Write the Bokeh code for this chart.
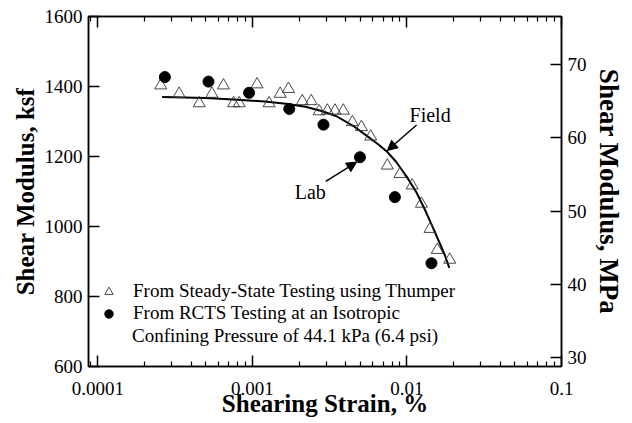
from bokeh.plotting import figure
from bokeh.models import (Range1d, LinearAxis, LogAxis, FixedTicker, Label, Arrow,
                          NormalHead, Legend, LegendItem)
from bokeh.embed import file_html
from bokeh.resources import INLINE

# ---- data ----
thumper_strain = [2.55e-4, 3.35e-4, 4.52e-4, 5.46e-4, 6.49e-4, 7.54e-4, 8.2e-4, 1.07e-3,
                  1.28e-3, 1.51e-3, 1.71e-3, 2.1e-3, 2.4e-3, 2.7e-3, 3.05e-3, 3.42e-3,
                  3.87e-3, 4.43e-3, 5.07e-3, 5.82e-3, 7.46e-3, 9.0e-3, 1.08e-2, 1.24e-2,
                  1.41e-2, 1.57e-2, 1.89e-2]
thumper_G = [1403, 1379, 1352, 1379, 1403, 1352, 1352, 1406, 1352, 1379, 1393, 1358,
             1358, 1329, 1331, 1331, 1331, 1298, 1284, 1257, 1174, 1150, 1117, 1065,
             993, 933, 905]

rcts_strain = [2.71e-4, 5.19e-4, 9.5e-4, 1.73e-3, 2.88e-3, 4.96e-3, 8.35e-3, 1.44e-2]
rcts_G = [1427, 1414, 1382, 1336, 1291, 1198, 1084, 895]

field_strain = [2.6e-4, 5e-4, 8e-4, 1.2e-3, 1.7e-3, 2.2e-3, 2.8e-3, 3.5e-3, 4.5e-3,
                5.5e-3, 6.5e-3, 7.5e-3, 8.5e-3, 1.0e-2, 1.15e-2, 1.3e-2, 1.45e-2,
                1.6e-2, 1.75e-2, 1.88e-2]
field_G = [1370, 1367, 1362, 1357, 1350, 1342, 1330, 1315, 1287, 1259, 1235, 1212,
           1185, 1141, 1098, 1050, 1003, 960, 920, 882]

x_ticks = [0.0001, 0.001, 0.01, 0.1]
x_tick_labels = ["0.0001", "0.001", "0.01", "0.1"]
y_ticks = [600, 800, 1000, 1200, 1400, 1600]
mpa_ticks = [30, 40, 50, 60, 70]
KSF_TO_MPA = 0.04788

FONT = "Liberation Serif"

p = figure(width=632, height=423, x_axis_type="log",
           x_range=Range1d(8.68e-5, 0.1), y_range=Range1d(600, 1600),
           output_backend="svg", toolbar_location=None,
           min_border_left=88, min_border_right=71, min_border_top=16,
           min_border_bottom=57)
p.grid.visible = False
p.outline_line_color = "black"
p.outline_line_width = 1.5
p.background_fill_color = "white"
p.border_fill_color = "white"

bottom = p.below[0]
left = p.left[0]

p.extra_y_ranges = {"mpa": Range1d(600 * KSF_TO_MPA, 1600 * KSF_TO_MPA)}

minor_x = [k * 10.0 ** e for e in range(-5, -1) for k in range(2, 10)]

bottom.ticker = FixedTicker(ticks=x_ticks, minor_ticks=minor_x)
bottom.major_label_overrides = dict(zip(x_ticks, x_tick_labels))
bottom.axis_label = "Shearing Strain, %"
left.ticker = FixedTicker(ticks=y_ticks, minor_ticks=[])
left.axis_label = "Shear Modulus, ksf"

top = LogAxis(ticker=FixedTicker(ticks=x_ticks, minor_ticks=minor_x),
              major_label_text_font_size="1px", major_label_text_color=None,
              major_label_standoff=0)
p.add_layout(top, "above")
right = LinearAxis(y_range_name="mpa", ticker=FixedTicker(ticks=mpa_ticks, minor_ticks=[]),
                   axis_label="Shear Modulus, MPa")
p.add_layout(right, "right")

for ax in [bottom, left, top, right]:
    ax.major_tick_in = 11
    ax.major_tick_out = 0
    ax.minor_tick_in = 5
    ax.minor_tick_out = 0
    ax.axis_line_width = 1.5
    ax.axis_line_color = "black"
    ax.major_tick_line_width = 1.5
    ax.major_tick_line_color = "black"
    ax.minor_tick_line_width = 1.2
    ax.minor_tick_line_color = "black"
    ax.major_label_text_font = FONT
    ax.axis_label_text_font = FONT
    ax.axis_label_text_font_style = "bold"
    ax.axis_label_text_font_size = "25px"
    ax.axis_label_text_color = "black"
right.axis_label_text_font_size = "27px"

for ax in [bottom, left, right]:
    ax.major_label_text_font_size = "19px"
    ax.major_label_text_color = "black"
bottom.major_label_standoff = 15
bottom.axis_label_standoff = -8
left.major_label_standoff = 6
left.axis_label_standoff = 3
right.major_label_standoff = 6
right.axis_label_standoff = 4

line = p.line(field_strain, field_G, line_width=2, color="black")
tri = p.scatter(thumper_strain, thumper_G, marker="triangle", size=12,
                fill_color=None, line_color="#333333", line_width=0.9)
circ = p.scatter(rcts_strain, rcts_G, marker="circle", size=11,
                 fill_color="black", line_color="black")

legend = Legend(items=[LegendItem(label="From Steady-State Testing using Thumper", renderers=[tri]),
                       LegendItem(label="From RCTS Testing at an Isotropic", renderers=[circ])],
                location=(10, 42), label_text_font=FONT, label_text_font_size="19px",
                label_text_color="black",
                border_line_color=None, background_fill_alpha=0, padding=0, margin=0,
                spacing=0, glyph_width=21, glyph_height=21, label_height=21,
                label_standoff=14)
p.add_layout(legend)

p.add_layout(Label(x=1.659e-4, y=689, text="Confining Pressure of 44.1 kPa (6.4 psi)",
                   text_font=FONT, text_font_size="19px", text_baseline="middle",
                   text_align="left", text_color="black"))

p.add_layout(Label(x=1.039e-2, y=1320, text="Field", text_font=FONT, text_font_size="20px",
                   text_baseline="middle", text_align="left", text_color="black"))
p.add_layout(Label(x=1.877e-3, y=1100, text="Lab", text_font=FONT, text_font_size="20px",
                   text_baseline="middle", text_align="left", text_color="black"))

p.add_layout(Arrow(x_start=1.154e-2, y_start=1290, x_end=7.46e-3, y_end=1217,
                   line_width=1.5, line_color="black",
                   end=NormalHead(size=10, fill_color="black", line_color="black")))
p.add_layout(Arrow(x_start=2.978e-3, y_start=1129, x_end=4.724e-3, y_end=1184,
                   line_width=1.5, line_color="black",
                   end=NormalHead(size=10, fill_color="black", line_color="black")))

open("out.html", "w").write(file_html(p, INLINE))
